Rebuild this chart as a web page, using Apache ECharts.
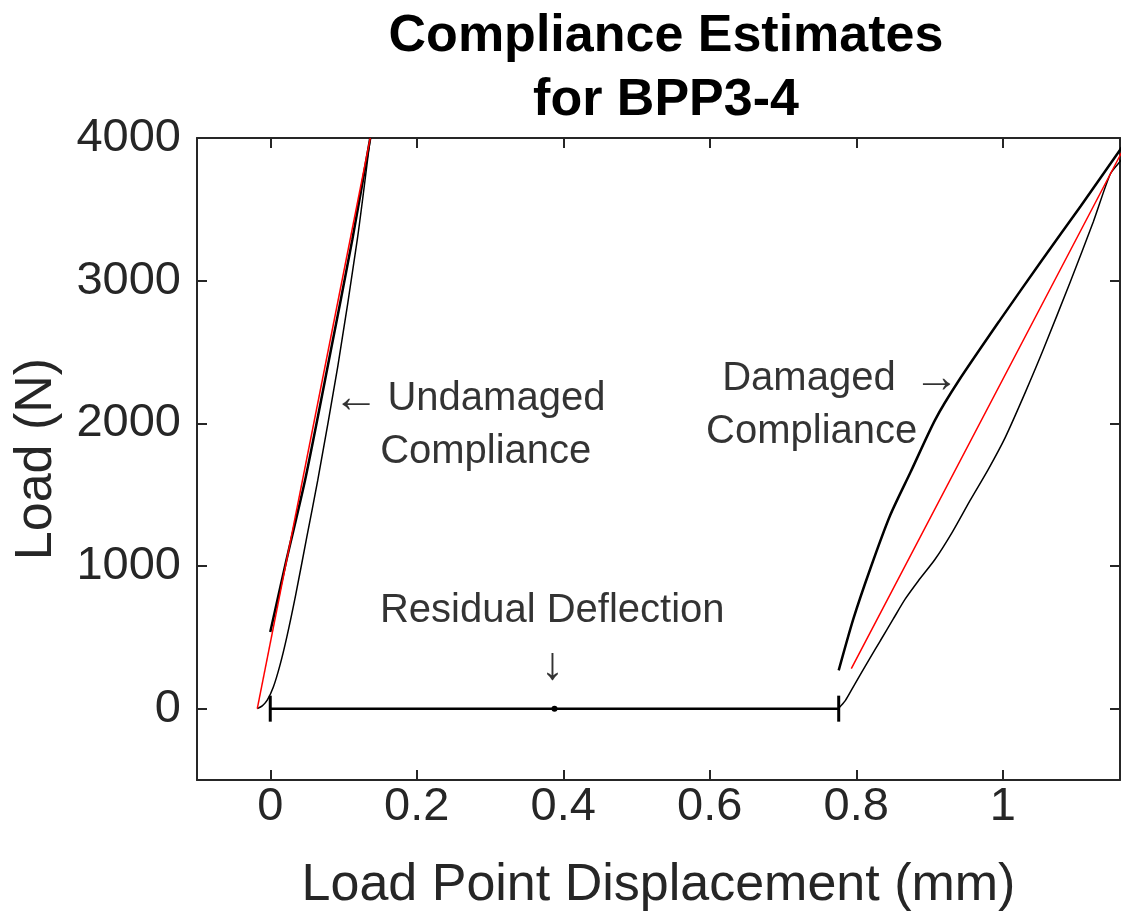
<!DOCTYPE html>
<html>
<head>
<meta charset="utf-8">
<script src="https://cdn.jsdelivr.net/npm/echarts@6/dist/echarts.min.js"></script>
<style>html,body{margin:0;padding:0;background:#fff}#c{width:1121px;height:921px}</style>
</head>
<body>
<div id="c"></div>
<script>
// ---- data (displacement mm, load N) ----
const undamagedLoading = [[-0.0177,0],[-0.0109,20],[-0.0041,60],[0.0041,150],[0.0130,300],[0.0225,500],[0.0348,800],[0.0498,1200],[0.0648,1600],[0.0922,2400],[0.1188,3287],[0.1365,4000]];
const undamagedUnloading = [[0,538],[0.022,1040],[0.0478,1608],[0.08,2440],[0.112,3287],[0.1365,4000]];
const undamagedFit = [[-0.0177,0],[0.1365,4000]];
const damagedLoading = [[0.7754,0],[0.7850,56],[0.7945,140],[0.8055,238],[0.8191,357],[0.8328,476],[0.8505,629],[0.8669,769],[0.8846,895],[0.9078,1049],[0.9311,1238],[0.9556,1462],[0.9802,1678],[1.0034,1902],[1.0307,2217],[1.0553,2517],[1.0922,2993],[1.1236,3413],[1.1468,3748],[1.1618,3846],[1.165,3870]];
const damagedUnloading = [[0.776,268],[0.796,629],[0.819,979],[0.846,1352],[0.874,1657],[0.908,2028],[0.94,2300],[0.9966,2727],[1.051,3126],[1.106,3520],[1.16,3916],[1.165,3950]];
const damagedFit = [[0.7932,280],[1.1604,3881],[1.165,3920]];
const residual = [[0,0],[0.388,0],[0.776,0]];
const xTicks = [0,0.2,0.4,0.6,0.8,1];
const xTickLabels = ['0','0.2','0.4','0.6','0.8','1'];
const yTicks = [0,1000,2000,3000,4000];
const yTickLabels = ['0','1000','2000','3000','4000'];
const annotations = [
  {text:'\u2190', x:0.086, y:2168, align:'left', size:46},
  {text:'Undamaged', x:0.160, y:2168, align:'left', size:40},
  {text:'Compliance', x:0.150, y:1797, align:'left', size:40},
  {text:'Damaged', x:0.617, y:2308, align:'left', size:40},
  {text:'\u2192', x:0.8785, y:2308, align:'left', size:46},
  {text:'Compliance', x:0.595, y:1937, align:'left', size:40},
  {text:'Residual Deflection', x:0.385, y:685, align:'center', size:40},
  {text:'\u2193', x:0.385, y:294, align:'center', size:46}
];

const axisColor = '#262626';
const font = 'Liberation Sans, Arial, Helvetica, sans-serif';
const chart = echarts.init(document.getElementById('c'), null, {renderer:'canvas'});

function lineSeries(data, color, width, smooth) {
  return {type:'line', data:data, showSymbol:false, symbol:'none', smooth:smooth,
    lineStyle:{color:color, width:width}, clip:true, silent:true, z:3};
}

const option = {
  animation:false,
  backgroundColor:'#fff',
  title:{text:'Compliance Estimates\nfor BPP3-4', left:661, top:0, textAlign:'center',
    textStyle:{fontFamily:font, fontWeight:'bold', fontSize:52, lineHeight:64, color:'#000'}},
  grid:{left:197, top:138, right:1, bottom:141, containLabel:false},
  xAxis:[{
    type:'value', min:-0.1, max:1.16, position:'bottom',
    name:'Load Point Displacement (mm)', nameLocation:'middle', nameGap:80,
    nameTextStyle:{fontFamily:font, fontSize:52, color:axisColor},
    axisLine:{show:true, onZero:false, lineStyle:{color:axisColor, width:2}},
    axisTick:{show:true, inside:true, length:10, customValues:xTicks, lineStyle:{color:axisColor, width:2}},
    axisLabel:{customValues:xTicks, formatter:function(v){return xTickLabels[xTicks.indexOf(Math.round(v*10)/10)] ?? '';},
      fontFamily:font, fontSize:47, color:axisColor, margin:4},
    splitLine:{show:false}
  },{
    type:'value', min:-0.1, max:1.16, position:'top',
    axisLine:{show:true, onZero:false, lineStyle:{color:axisColor, width:2}},
    axisTick:{show:true, inside:true, length:10, customValues:xTicks, lineStyle:{color:axisColor, width:2}},
    axisLabel:{show:false}, splitLine:{show:false}
  }],
  yAxis:[{
    type:'value', min:-500, max:4000, position:'left',
    name:'Load (N)', nameLocation:'middle', nameGap:134,
    nameTextStyle:{fontFamily:font, fontSize:52, color:axisColor},
    axisLine:{show:true, onZero:false, lineStyle:{color:axisColor, width:2}},
    axisTick:{show:true, inside:true, length:10, customValues:yTicks, lineStyle:{color:axisColor, width:2}},
    axisLabel:{customValues:yTicks, formatter:function(v){return yTickLabels[yTicks.indexOf(v)] ?? '';},
      fontFamily:font, fontSize:47, color:axisColor, margin:16},
    splitLine:{show:false}
  },{
    type:'value', min:-500, max:4000, position:'right',
    axisLine:{show:true, onZero:false, lineStyle:{color:axisColor, width:2}},
    axisTick:{show:true, inside:true, length:10, customValues:yTicks, lineStyle:{color:axisColor, width:2}},
    axisLabel:{show:false}, splitLine:{show:false}
  }],
  series:[
    lineSeries(undamagedLoading, '#000', 1.5, 0.25),
    lineSeries(undamagedUnloading, '#000', 2.5, 0.25),
    lineSeries(undamagedFit, '#ff0000', 1.5, false),
    lineSeries(damagedLoading, '#000', 1.5, 0.25),
    lineSeries(damagedUnloading, '#000', 2.5, 0.25),
    lineSeries(damagedFit, '#ff0000', 1.5, false),
    {type:'line', data:residual.map(function(p,i){
        const end = (i===0 || i===residual.length-1);
        return {value:p, symbol: end ? 'rect' : 'circle', symbolSize: end ? [3,26] : 6};
      }),
      showSymbol:true, lineStyle:{color:'#000', width:2.5}, itemStyle:{color:'#000'}, silent:true, z:4},
    {type:'scatter', symbolSize:0, silent:true, z:5,
      data:annotations.map(function(a){
        return {value:[a.x,a.y], label:{show:true, formatter:a.text, position:'inside', align:a.align, verticalAlign:'middle',
          fontFamily:font, fontSize:a.size, color:'#000'}};
      })}
  ]
};
chart.setOption(option);
</script>
</body>
</html>
